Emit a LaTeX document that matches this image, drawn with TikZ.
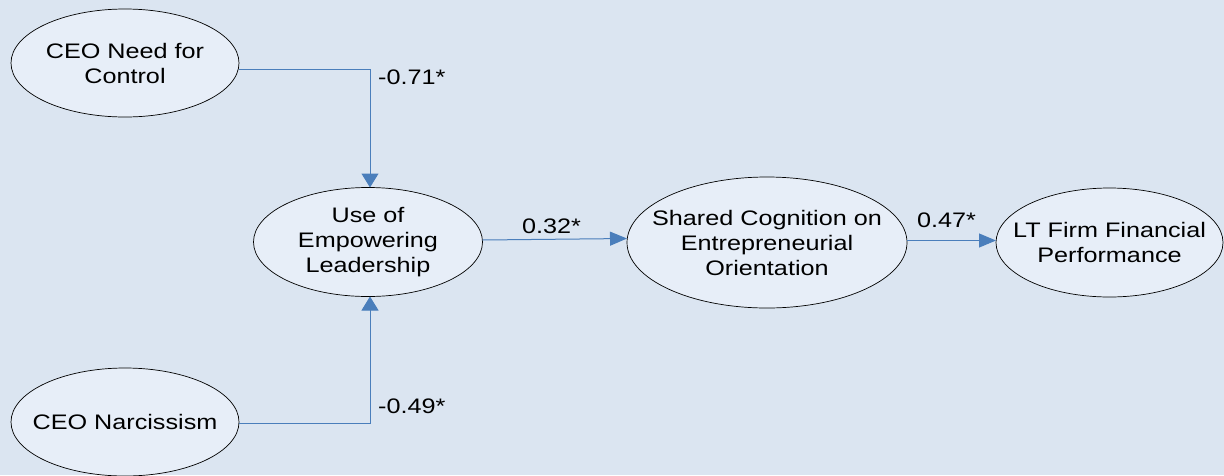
\documentclass[tikz,border=0pt]{standalone}
\usepackage{fontspec}
\setmainfont{Liberation Sans}[FakeStretch=1.2]
\usetikzlibrary{arrows.meta,shapes.geometric}
\definecolor{bg}{HTML}{DBE5F1}
\definecolor{ovalfill}{HTML}{E7EEF8}
\definecolor{link}{HTML}{4A7EBB}
\begin{document}
\begin{tikzpicture}[x=1pt,y=-1pt,
  font=\fontsize{21}{25}\selectfont,
  oval/.style={ellipse, draw=black, line width=0.7pt, fill=ovalfill,
    inner sep=0pt, outer sep=0pt},
  ovaltext/.style={align=center, inner sep=0pt},
  hlink/.style={draw=link, line width=1pt, -{Triangle[length=17pt,width=14pt]}},
  vlink/.style={draw=link, line width=1pt, -{Triangle[length=14pt,width=17pt]}},
  coef/.style={anchor=west, inner sep=0pt}]
% canvas
\fill[bg] (0,0) rectangle (1224,475);
\useasboundingbox (0,0) rectangle (1224,475);

% constructs
\node[oval, minimum width=228pt, minimum height=108pt,
  label={[ovaltext]center:CEO Need for\\Control}] (need) at (125,63) {};
\node[oval, minimum width=228pt, minimum height=108pt,
  label={[ovaltext]center:CEO Narcissism}] (narc) at (125,422) {};
\node[oval, minimum width=229pt, minimum height=109pt,
  label={[ovaltext]center:Use of\\Empowering\\Leadership}] (use) at (368,242) {};
\node[oval, minimum width=280pt, minimum height=131pt,
  label={[ovaltext]center:Shared Cognition on\\Entrepreneurial\\Orientation}] (shared) at (767,242.5) {};
\node[oval, minimum width=227pt, minimum height=109pt,
  label={[ovaltext]center:LT Firm Financial\\Performance}] (lt) at (1109.5,242.5) {};

% paths
\draw[vlink] ([yshift=-6pt]need.east) -| ([xshift=2pt]use.north);
\draw[vlink] ([yshift=-1pt]narc.east) -| ([xshift=2pt]use.south);
\draw[hlink] ([yshift=2pt]use.east) -- ([yshift=4pt]shared.west);
\draw[hlink] ([yshift=2pt]shared.east) -- ([yshift=2pt]lt.west);

% path coefficients
\node[coef] (c1) at (378,77) {-0.71*};
\node[coef] (c2) at (378,406) {-0.49*};
\node[coef] (c3) at (522,226) {0.32*};
\node[coef] (c4) at (917,220) {0.47*};
\end{tikzpicture}
\end{document}
